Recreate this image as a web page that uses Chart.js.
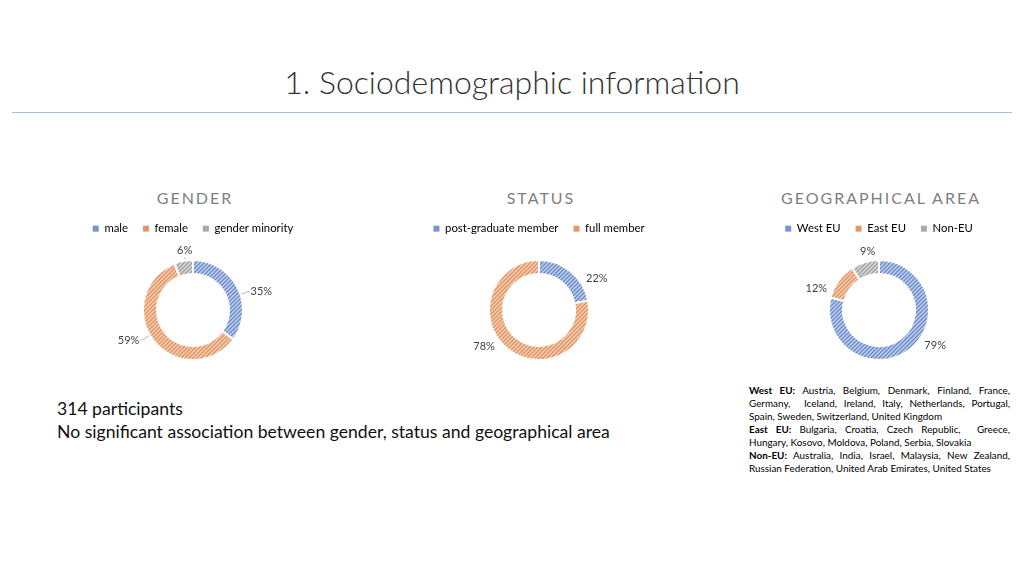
<!DOCTYPE html>
<html>
<head>
<meta charset="utf-8">
<script src="https://cdn.jsdelivr.net/npm/chart.js@4.4.1/dist/chart.umd.min.js"></script>
<style>
  body { margin: 0; width: 1024px; height: 576px; position: relative; overflow: hidden; background: #fff; font-family: Lato, "Open Sans", sans-serif; }
  .abs { position: absolute; }
  #title { top: 62px; left: 0; width: 1024px; text-align: center; font-size: 32px; font-weight: 300; color: #333; line-height: 40px; }
  #rule { left: 12px; top: 112px; width: 1000px; height: 1px; background: #A8BED7; }
  .ctitle { top: 188px; width: 300px; text-align: center; font-size: 16px; line-height: 20px; color: #7f7f7f; letter-spacing: 2px; padding-left: 2px; }
  .wrap { top: 208px; width: 300px; height: 152px; }
  #notes { left: 57px; top: 397px; font-size: 17.6px; line-height: 23px; color: #111; }
  #areas { left: 749px; top: 384px; width: 261px; font-size: 9.9px; line-height: 13px; color: #000; }
  #areas div { white-space: nowrap; }
  #areas .j { text-align: justify; text-align-last: justify; white-space: normal; }
</style>
</head>
<body>
<div id="title" class="abs">1. Sociodemographic information</div>
<div id="rule" class="abs"></div>

<div class="abs ctitle" style="left:43px">GENDER</div>
<div class="abs ctitle" style="left:389px">STATUS</div>
<div class="abs ctitle" style="left:729px">GEOGRAPHICAL AREA</div>

<div class="abs wrap" style="left:43px"><canvas id="gender" width="300" height="152"></canvas></div>
<div class="abs wrap" style="left:389px"><canvas id="status" width="300" height="152"></canvas></div>
<div class="abs wrap" style="left:729px"><canvas id="geo" width="300" height="152"></canvas></div>

<div id="notes" class="abs">314 participants<br>No significant association between gender, status and geographical area</div>

<div id="areas" class="abs">
  <div class="j"><b>West EU:</b> Austria, Belgium, Denmark, Finland, France,</div>
  <div class="j">Germany,&nbsp; Iceland, Ireland, Italy, Netherlands, Portugal,</div>
  <div>Spain, Sweden, Switzerland, United Kingdom</div>
  <div class="j"><b>East EU:</b> Bulgaria, Croatia, Czech Republic,&nbsp; Greece,</div>
  <div>Hungary, Kosovo, Moldova, Poland, Serbia, Slovakia</div>
  <div class="j"><b>Non-EU:</b> Australia, India, Israel, Malaysia, New Zealand,</div>
  <div>Russian Federation, United Arab Emirates, United States</div>
</div>

<script>
// Data
const genderLabels = ['male', 'female', 'gender minority'];
const genderValues = [35, 59, 6];
const statusLabels = ['post-graduate member', 'full member'];
const statusValues = [22, 78];
const geoLabels = ['West EU', 'East EU', 'Non-EU'];
const geoValues = [79, 12, 9];

// Styles
const hatchColors = [
  ['#C3D1EE', '#6888C8'],   // blue
  ['#F7D2B9', '#E28E5B'],   // orange
  ['#D9D9D9', '#9E9E9E'],   // grey
];
const legendColors = ['#7694CE', '#E0986A', '#A9A9A9'];
// small manual label moves, like the dragged labels in the original
const genderShift = [[7, 10], [-10, -8], [4, 3]];
const statusShift = [[14, 17], [-11, -12]];
const geoShift = [[14, -15], [-7, 16], [7, 2]];

function hatch(bg, fg) {
  var c = document.createElement('canvas');
  c.width = 4; c.height = 4;
  var g = c.getContext('2d');
  g.fillStyle = bg;
  g.fillRect(0, 0, 4, 4);
  g.strokeStyle = fg;
  g.lineWidth = 1.3;
  g.beginPath();
  g.moveTo(0, 4); g.lineTo(4, 0);
  g.moveTo(-1, 1); g.lineTo(1, -1);
  g.moveTo(3, 5); g.lineTo(5, 3);
  g.stroke();
  return g.createPattern(c, 'repeat');
}
var patterns = hatchColors.map(function (p) { return hatch(p[0], p[1]); });

// legend box gets a fixed height so the ring sits below it
var legendHeight = {
  id: 'legendHeight',
  beforeInit: function (chart) {
    var fit = chart.legend.fit;
    chart.legend.fit = function () {
      fit.call(chart.legend);
      this.height = 52;
    };
  }
};

// percentage labels outside the ring
var ringLabels = {
  id: 'ringLabels',
  afterDatasetsDraw: function (chart, args, opts) {
    var ctx = chart.ctx;
    var meta = chart.getDatasetMeta(0);
    var data = chart.data.datasets[0].data;
    ctx.save();
    ctx.font = '11px Lato';
    ctx.fillStyle = '#404040';
    ctx.textAlign = 'center';
    ctx.textBaseline = 'middle';
    meta.data.forEach(function (arc, i) {
      var p = arc.getProps(['x', 'y', 'startAngle', 'endAngle', 'outerRadius']);
      var mid = (p.startAngle + p.endAngle) / 2;
      var dx = Math.cos(mid), dy = Math.sin(mid);
      var text = data[i] + '%';
      var w = ctx.measureText(text).width, h = 11;
      var r = p.outerRadius + 8;
      var sh = opts.shift[i] || [0, 0];
      var lx = p.x + dx * r + dx * w / 2 + sh[0];
      var ly = p.y + dy * r + dy * h / 2 + sh[1];
      ctx.fillText(text, lx, ly);
      if (opts.leaders) {
        // from the label edge toward the ring
        var ex = lx, ey = ly;
        if (Math.abs(dx) > 0.5) { ex = lx - Math.sign(dx) * (w / 2 + 1); }
        else { ey = ly - Math.sign(dy) * (h / 2 + 1); }
        var vx = ex - p.x, vy = ey - p.y, d = Math.sqrt(vx * vx + vy * vy);
        var rx = p.x + vx / d * (p.outerRadius + 1), ry = p.y + vy / d * (p.outerRadius + 1);
        ctx.strokeStyle = '#A6A6A6';
        ctx.lineWidth = 0.8;
        ctx.beginPath();
        ctx.moveTo(ex, ey);
        ctx.lineTo(rx, ry);
        ctx.stroke();
      }
    });
    ctx.restore();
  }
};

function makeDonut(id, labels, values, shift, leaders) {
  var ctx = document.getElementById(id).getContext('2d');
  return new Chart(ctx, {
    type: 'doughnut',
    data: {
      labels: labels,
      datasets: [{
        data: values,
        backgroundColor: patterns.slice(0, values.length),
        borderColor: '#ffffff',
        borderWidth: 2,
        hoverOffset: 0,
      }]
    },
    options: {
      responsive: false,
      animation: false,
      radius: 50,
      cutout: '72%',
      layout: { padding: 0 },
      plugins: {
        legend: {
          display: true,
          position: 'top',
          labels: {
            boxWidth: 6,
            boxHeight: 6,
            padding: 15,
            color: '#595959',
            font: { family: 'Lato', size: 11.3 },
            generateLabels: function (chart) {
              return chart.data.labels.map(function (t, i) {
                return {
                  text: t,
                  fillStyle: legendColors[i],
                  strokeStyle: legendColors[i],
                  lineWidth: 0,
                  hidden: false,
                  index: i,
                };
              });
            }
          }
        },
        tooltip: { enabled: false },
        ringLabels: { shift: shift, leaders: leaders },
      }
    },
    plugins: [legendHeight, ringLabels],
  });
}

var genderChart = makeDonut('gender', genderLabels, genderValues, genderShift, true);
var statusChart = makeDonut('status', statusLabels, statusValues, statusShift, false);
var geoChart = makeDonut('geo', geoLabels, geoValues, geoShift, false);
</script>
</body>
</html>
